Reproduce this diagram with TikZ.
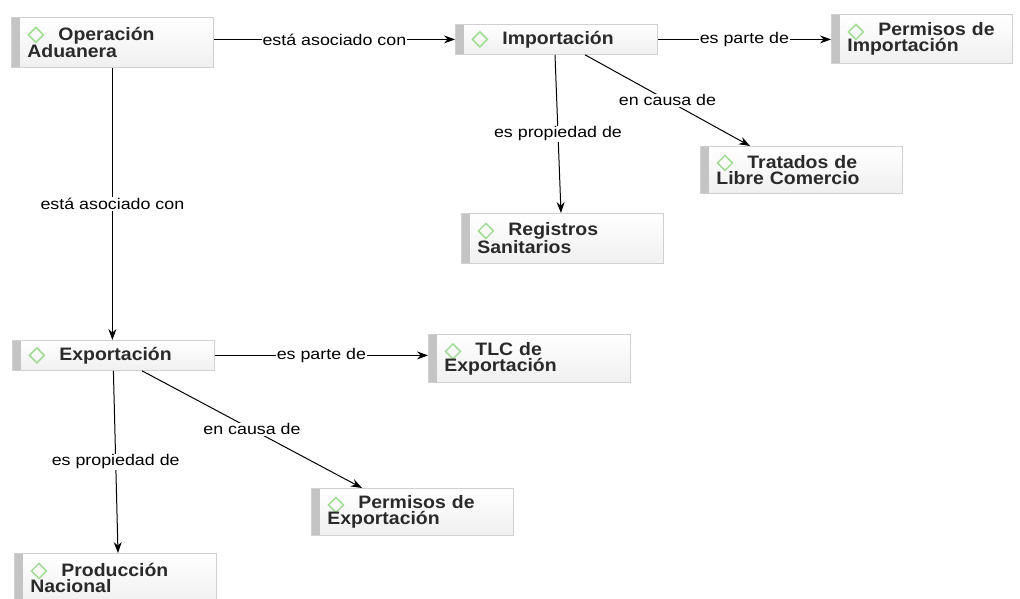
\documentclass[tikz,border=0pt]{standalone}
\usepackage{fontspec}
\setmainfont{Liberation Sans}
\newfontfamily\nfont{Liberation Sans}[FakeStretch=1.08]
\newfontfamily\lfont{Liberation Sans}[FakeStretch=1.15]
\usetikzlibrary{arrows.meta,calc}
\definecolor{txt}{HTML}{2A2A2A}
\definecolor{bord}{HTML}{D0D0D0}
\definecolor{barc}{HTML}{C4C4C4}
\definecolor{boxb}{HTML}{F0F0F0}
\definecolor{dgreen}{HTML}{A2DC95}
\newcommand{\dsp}{\hspace*{31pt}}
\tikzset{
  concept/.style={draw=bord, line width=0.8pt, top color=white, bottom color=boxb,
    rectangle, minimum width=202pt, text width=170pt, inner xsep=16pt, inner ysep=0pt,
    align=left, anchor=north west, font=\nfont\bfseries\fontsize{18}{16}\selectfont, text=txt,
    path picture={
      \fill[barc] (path picture bounding box.north west) rectangle ([xshift=9pt]path picture bounding box.south west);
      \draw[dgreen, line width=1.5pt] ([xshift=24.5pt,yshift=#1]path picture bounding box.north west)
        ++(-7.5pt,0pt) -- ++(7.5pt,7.5pt) -- ++(7.5pt,-7.5pt) -- ++(-7.5pt,-7.5pt) -- cycle;}},
  concept/.default={-17.5pt},
  conn/.style={-{Stealth[length=11pt,width=8pt]}, line width=1pt, black},
  lbl/.style={font=\lfont\fontsize{15.5}{16}\selectfont, fill=white, inner sep=1pt, text=black}
}
\begin{document}
\begin{tikzpicture}[x=1pt,y=-1pt]
\useasboundingbox (0,0) rectangle (1020,598);
\node[concept, minimum height=50pt] (opa) at (11,17) {\dsp Operación\\Aduanera};
\node[concept={-15pt}, minimum height=30pt] (imp) at (455,24) {\dsp Importación};
\node[concept, minimum height=49pt, minimum width=181pt, text width=149pt] (pim) at (831,14) {\dsp Permisos de\\Importación};
\node[concept, minimum height=50pt] (reg) at (461,213) {\dsp Registros\\Sanitarios};
\node[concept={-16.5pt}, minimum height=47pt] (tra) at (700,146) {\dsp Tratados de\\Libre Comercio};
\node[concept={-15pt}, minimum height=30pt] (exp) at (12,340) {\dsp Exportación};
\node[concept={-17pt}, minimum height=48pt] (tlc) at (428,334) {\dsp TLC de\\Exportación};
\node[concept={-16.5pt}, minimum height=47pt] (pex) at (311,488) {\dsp Permisos de\\Exportación};
\node[concept, minimum height=50pt] (pro) at (14,553) {\dsp Producción\\Nacional};

\draw[conn] (opa.east |- imp.west) -- node[lbl]{está asociado con} (imp.west);
\draw[conn] (imp.east) -- node[lbl]{es parte de} (pim.west |- imp.east);
\draw[conn] ($(imp.south west)+(100,0)$) -- node[lbl]{es propiedad de} ($(reg.north west)+(100,0)$);
\draw[conn] ($(imp.south west)+(130,0)$) -- node[lbl]{en causa de} ($(tra.north west)+(50,0)$);
\draw[conn] (opa.south) -- node[lbl]{está asociado con} (opa.south |- exp.north);
\draw[conn] (exp.east) -- node[lbl]{es parte de} (exp.east -| tlc.west);
\draw[conn] (exp.south) -- node[lbl]{es propiedad de} ($(pro.north west)+(104,0)$);
\draw[conn] ($(exp.south west)+(130,0)$) -- node[lbl]{en causa de} ($(pex.north west)+(51,0)$);
\end{tikzpicture}
\end{document}
